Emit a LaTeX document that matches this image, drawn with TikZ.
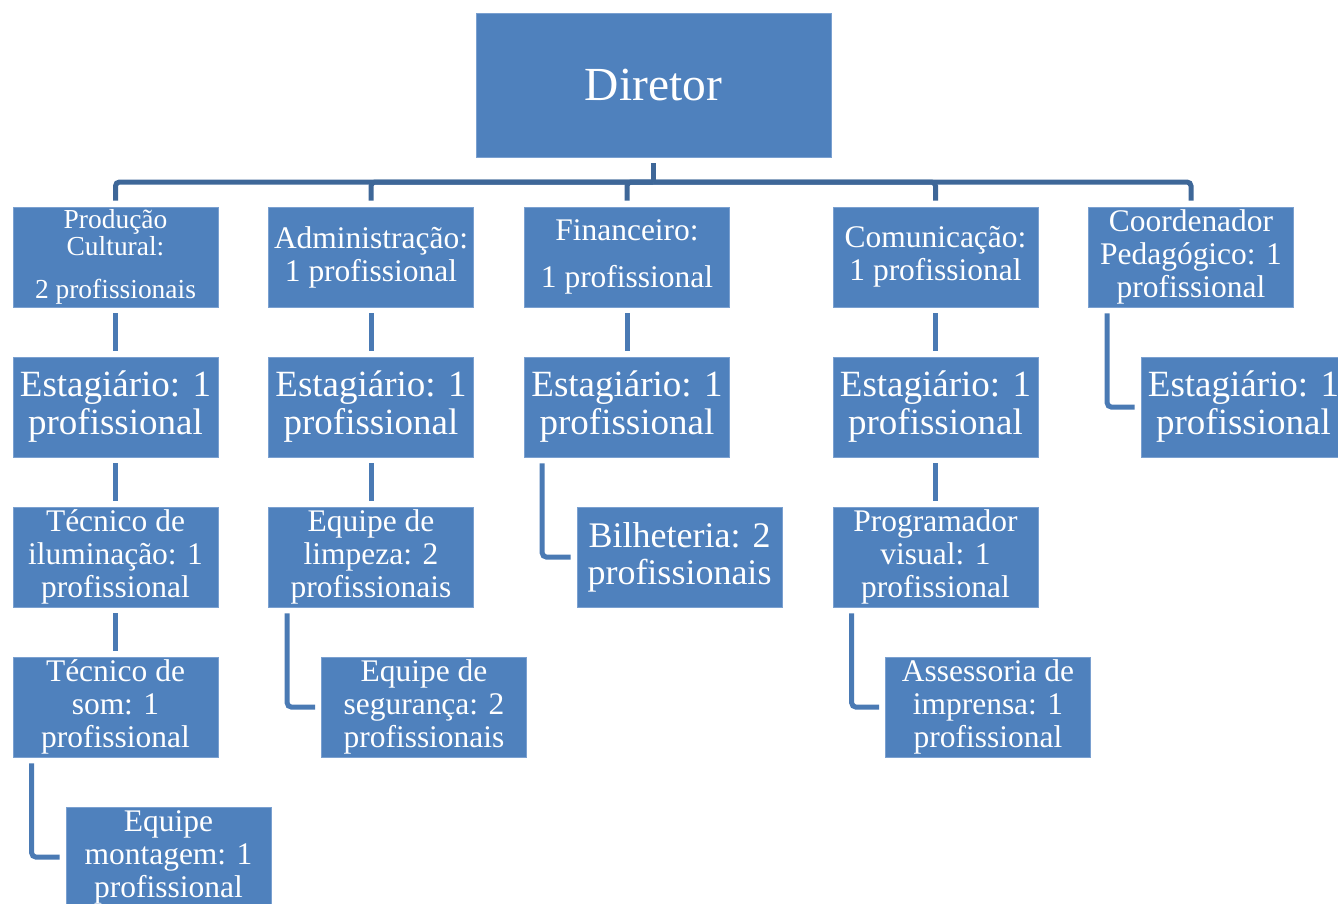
\documentclass[tikz,border=0pt]{standalone}
\usepackage{fontspec}
\setmainfont{Liberation Serif}
\usetikzlibrary{positioning}
\definecolor{boxblue}{RGB}{79,129,189}
\definecolor{boxedge}{RGB}{122,160,208}
\definecolor{barblue}{RGB}{62,103,152}
\definecolor{linkblue}{RGB}{74,122,180}

\begin{document}
\begin{tikzpicture}[x=0.75pt, y=0.75pt,
    every node/.style={rectangle, fill=boxblue, draw=boxedge, line width=0.4pt, text=white, align=center, inner sep=0pt, minimum width=153.75pt, minimum height=75pt},
    dirbox/.style={minimum width=266.25pt, minimum height=108pt, font=\fontsize{35.6}{40}\selectfont},
    txtbig/.style={font=\fontsize{27.75}{28.5}\selectfont},
    txtmid/.style={font=\fontsize{23.6}{24.75}\selectfont},
    txtsmall/.style={font=\fontsize{20.6}{20.25}\selectfont},
    barline/.style={draw=barblue, line width=3.75pt, rounded corners=3pt},
    linkline/.style={draw=linkblue, line width=3.75pt, rounded corners=3pt, shorten <=4.5pt, shorten >=4.5pt}]
        \useasboundingbox (0,0) rectangle (1338,-903);

        % Diretor
        \node (DIR) at (653.5,-85) [dirbox] {Diretor};

        % Setores
        \node (PC) at (115.5,-257) [txtsmall] {Produção\\Cultural:\\[12pt]2 profissionais};
        \node (ADM) at (371,-257) [txtmid] {Administração:\\1 profissional};
        \node (FIN) at (627,-257) [txtmid] {Financeiro:\\[10pt]1 profissional};
        \node (COM) at (935.5,-257) [txtmid] {Comunicação:\\1 profissional};
        \node (COO) at (1191,-257) [txtmid] {Coordenador\\Pedagógico: 1\\profissional};

        % Estagiarios
        \node (PCE) at (115.5,-407) [txtbig] {Estagiário: 1\\profissional};
        \node (ADME) at (371,-407) [txtbig] {Estagiário: 1\\profissional};
        \node (FINE) at (627,-407) [txtbig] {Estagiário: 1\\profissional};
        \node (COME) at (935.5,-407) [txtbig] {Estagiário: 1\\profissional};
        \node (COOE) at (1243.5,-407) [txtbig] {Estagiário: 1\\profissional};

        % Equipes
        \node (ILU) at (115.5,-557) [txtmid] {Técnico de\\iluminação: 1\\profissional};
        \node (LIM) at (371,-557) [txtmid] {Equipe de\\limpeza: 2\\profissionais};
        \node (BIL) at (679.5,-557) [font=\fontsize{27}{27.75}\selectfont] {Bilheteria: 2\\profissionais};
        \node (PRG) at (935.5,-557) [txtmid] {Programador\\visual: 1\\profissional};
        \node (SOM) at (115.5,-707) [txtmid] {Técnico de\\som: 1\\profissional};
        \node (SEG) at (424,-707) [txtmid] {Equipe de\\segurança: 2\\profissionais};
        \node (ASS) at (988,-707) [txtmid] {Assessoria de\\imprensa: 1\\profissional};
        \node (MON) at (168.5,-857) [txtmid] {Equipe\\montagem: 1\\profissional};

        % Ligacoes
        \coordinate (hub) at (653.5,-182);
        \draw[barline, shorten <=4.5pt] (DIR) -- (hub);
        \foreach \n in {PC,ADM,FIN,COM,COO}
            \draw[barline, shorten >=4.5pt] (hub) -| (\n.north);
        \draw[linkline] (PC) -- (PCE);
        \draw[linkline] (ADM) -- (ADME);
        \draw[linkline] (FIN) -- (FINE);
        \draw[linkline] (COM) -- (COME);
        \draw[linkline] (PCE) -- (ILU);
        \draw[linkline] (ADME) -- (LIM);
        \draw[linkline] (COME) -- (PRG);
        \draw[linkline] (ILU) -- (SOM);
        \draw[linkline] ([xshift=14.25pt]COO.south west) |- (COOE.west);
        \draw[linkline] ([xshift=13.5pt]FINE.south west) |- (BIL.west);
        \draw[linkline] ([xshift=14.25pt]LIM.south west) |- (SEG.west);
        \draw[linkline] ([xshift=14.25pt]PRG.south west) |- (ASS.west);
        \draw[linkline] ([xshift=14.25pt]SOM.south west) |- (MON.west);
    \end{tikzpicture}
\end{document}
